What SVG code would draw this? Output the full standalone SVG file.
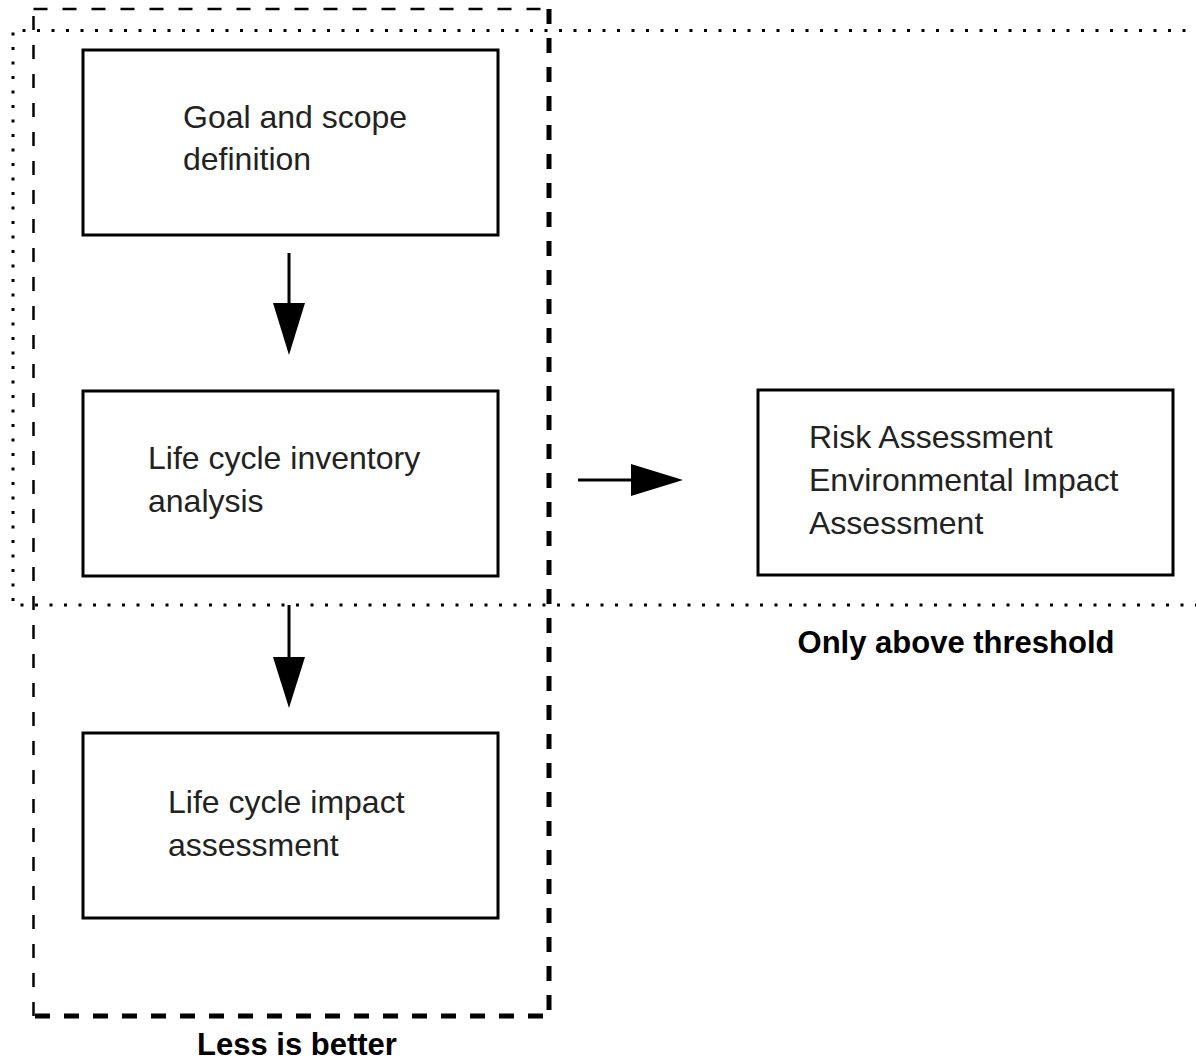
<svg xmlns="http://www.w3.org/2000/svg" width="1196" height="1061" viewBox="0 0 1196 1061">
<style>
.box{fill:#fff;stroke:#000;stroke-width:3}
.t{font-family:"Liberation Sans",Arial,sans-serif;font-size:32px;fill:#222}
.b{font-family:"Liberation Sans",Arial,sans-serif;font-size:31px;font-weight:bold;fill:#000;text-anchor:middle}
.ln{stroke:#000;stroke-width:3;fill:none}
.hd{fill:#000;stroke:none}
.dot{fill:none;stroke:#000;stroke-width:3;stroke-dasharray:3 11.5}
.dash1{fill:none;stroke:#000;stroke-width:2.5;stroke-dasharray:14 15}
.dash2{fill:none;stroke:#000;stroke-width:5;stroke-dasharray:15 14}
</style>
<rect width="1196" height="1061" fill="#fff"/>
<g id="boundaries">
<path class="dot" d="M1200 30.5 H13 V605 H1200"/>
<path class="dash1" d="M33.5 1016 V9"/>
<path class="dash1" d="M33.5 9 H552" stroke-width="3.5"/>
<path class="dash2" d="M549 9 V1016"/>
<path class="dash2" d="M35 1016 H552"/>
</g>
<g id="connectors">
<line class="ln" x1="289" y1="253" x2="289" y2="305"/>
<polygon class="hd" points="273,303 305,303 289,355"/>
<line class="ln" x1="289" y1="605" x2="289" y2="659"/>
<polygon class="hd" points="273,657 305,657 289,708"/>
<line class="ln" x1="578" y1="480" x2="633" y2="480"/>
<polygon class="hd" points="631,464 631,496 683,480"/>
</g>
<g id="node-goal">
<rect class="box" x="83" y="50" width="415" height="185"/>
<text class="t" x="183" y="128">Goal and scope</text>
<text class="t" x="183" y="170">definition</text>
</g>
<g id="node-inventory">
<rect class="box" x="83" y="391" width="415" height="185"/>
<text class="t" x="148" y="469">Life cycle inventory</text>
<text class="t" x="148" y="512">analysis</text>
</g>
<g id="node-impact">
<rect class="box" x="83" y="733" width="415" height="185"/>
<text class="t" x="168" y="813">Life cycle impact</text>
<text class="t" x="168" y="856">assessment</text>
</g>
<g id="node-risk">
<rect class="box" x="758" y="390" width="415" height="185"/>
<text class="t" x="809" y="448">Risk Assessment</text>
<text class="t" x="809" y="491">Environmental Impact</text>
<text class="t" x="809" y="534">Assessment</text>
</g>
<g id="labels">
<text class="b" x="956" y="653">Only above threshold</text>
<text class="b" x="297" y="1055">Less is better</text>
</g>
</svg>
